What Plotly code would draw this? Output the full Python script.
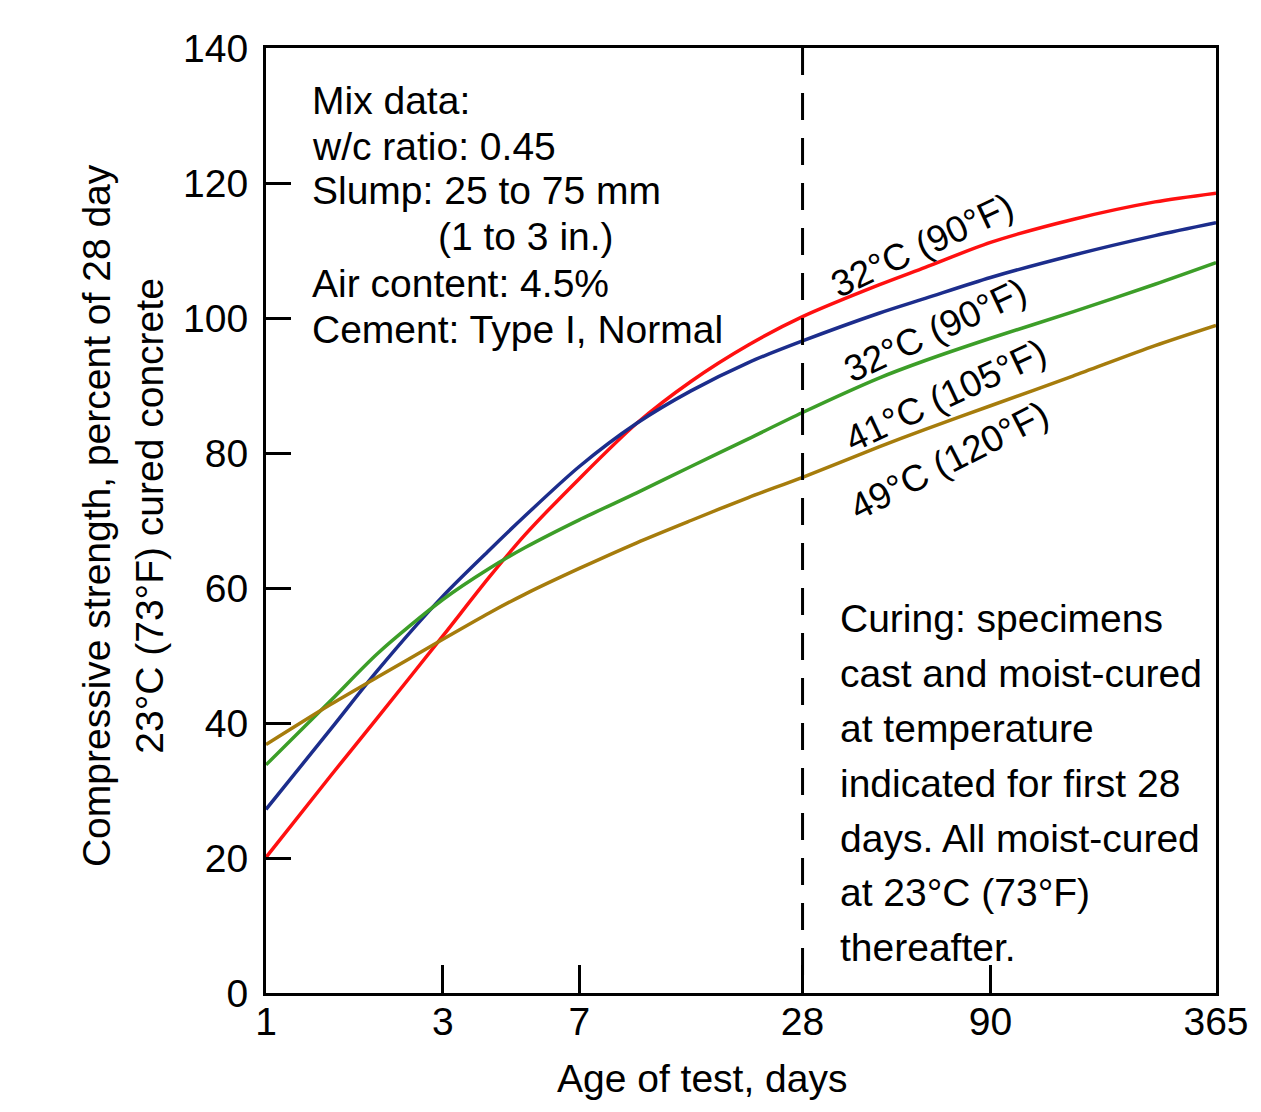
import plotly.graph_objects as go

# ---- data ----
days = [1, 1.5, 2, 3, 4, 5, 7, 10, 14, 20, 28, 45, 60, 90, 150, 250, 365]

red_32 = [20.1, 32.3, 40.8, 52.9, 61.6, 67.9, 76.2, 84.4, 90.6, 96.0, 100.2,
          104.9, 107.5, 111.2, 114.6, 117.2, 118.5]
blue_32 = [27.2, 39.2, 47.8, 58.8, 65.6, 70.7, 78.0, 84.4, 89.2, 93.4, 96.6,
           100.7, 102.9, 106.0, 109.3, 112.2, 114.1]
green_41 = [33.8, 43.4, 50.3, 58.3, 62.9, 66.0, 70.1, 74.1, 78.0, 82.1, 86.0,
            91.1, 93.7, 97.0, 100.9, 105.0, 108.2]
gold_49 = [36.8, 42.8, 46.8, 52.4, 56.3, 59.1, 62.9, 66.7, 70.0, 73.4, 76.4,
           80.9, 83.5, 87.0, 91.4, 95.9, 98.9]

x_ticks = [1, 3, 7, 28, 90, 365]
y_ticks = [0, 20, 40, 60, 80, 100, 120, 140]

series = [
    ("32°C (90°F)", red_32, "#ff1010"),
    ("32°C (90°F)", blue_32, "#1c2d8c"),
    ("41°C (105°F)", green_41, "#3c9e28"),
    ("49°C (120°F)", gold_49, "#a67c0c"),
]

mix_lines = ["Mix data:", "w/c ratio: 0.45", "Slump: 25 to 75 mm",
             "(1 to 3 in.)", "Air content: 4.5%", "Cement: Type I, Normal"]
curing_lines = ["Curing: specimens", "cast and moist-cured", "at temperature",
                "indicated for first 28", "days. All moist-cured",
                "at 23°C (73°F)", "thereafter."]

FONT = "Liberation Sans, Arial, sans-serif"
FS = 39

fig = go.Figure()
for name, vals, col in series:
    fig.add_trace(go.Scatter(x=days, y=vals, mode="lines", name=name,
                             line=dict(color=col, width=3.5, shape="spline", smoothing=0.8),
                             showlegend=False, hoverinfo="skip"))

# dashed 28-day line
fig.add_trace(go.Scatter(x=[28, 28], y=[140, 0], mode="lines",
                         line=dict(color="black", width=3, dash="27px,18px"),
                         showlegend=False, hoverinfo="skip"))

L, R, T, B = 266, 1222, 48, 993
W, H = 1261, 1112
pw, ph = R - L, B - T


def px(xp):
    return (xp - L) / pw


def py(yp):
    return (B - yp) / ph


ann = []
mix_y = [101, 146, 191, 237, 283, 329]
mix_x = [310, 310, 310, 437, 310, 310]
for t, xx, yy in zip(mix_lines, mix_x, mix_y):
    ann.append(dict(text=t, x=px(xx), y=py(yy), xref="paper", yref="paper",
                    xanchor="left", yanchor="middle", showarrow=False,
                    font=dict(family=FONT, size=FS, color="black")))
cur_y = [618, 673, 728, 783, 838, 892, 947]
for t, yy in zip(curing_lines, cur_y):
    ann.append(dict(text=t, x=px(842), y=py(yy), xref="paper", yref="paper",
                    xanchor="left", yanchor="middle", showarrow=False,
                    font=dict(family=FONT, size=FS, color="black")))
lab_pos = [(926, 245, -25), (939, 330, -25), (950, 395, -25), (954, 461, -27)]
for (name, vals, col), (xx, yy, ang) in zip(series, lab_pos):
    ann.append(dict(text=name, x=px(xx), y=py(yy), xref="paper", yref="paper",
                    xanchor="center", yanchor="middle", showarrow=False, textangle=ang,
                    font=dict(family=FONT, size=37, color="black")))
ann.append(dict(text="Age of test, days", x=px(705), y=py(1078), xref="paper", yref="paper",
                xanchor="center", yanchor="middle", showarrow=False,
                font=dict(family=FONT, size=FS, color="black")))
ann.append(dict(text="Compressive strength, percent of 28 day", x=px(95), y=py(516),
                xref="paper", yref="paper", xanchor="center", yanchor="middle",
                showarrow=False, textangle=-90,
                font=dict(family=FONT, size=FS, color="black")))
ann.append(dict(text="23°C (73°F) cured concrete", x=px(148), y=py(516),
                xref="paper", yref="paper", xanchor="center", yanchor="middle",
                showarrow=False, textangle=-90,
                font=dict(family=FONT, size=FS, color="black")))

fig.update_layout(
    width=W, height=H,
    margin=dict(l=L, r=W - R, t=T, b=H - B),
    paper_bgcolor="white", plot_bgcolor="white",
    annotations=ann,
    font=dict(family=FONT, size=FS, color="black"),
)
fig.update_xaxes(type="log", range=[0, 2.5623], tickvals=x_ticks,
                 ticktext=[str(v) for v in x_ticks],
                 ticks="inside", ticklen=28, tickwidth=3, tickcolor="black",
                 showline=True, linewidth=3, linecolor="black", mirror=True,
                 showgrid=False, zeroline=False, ticklabelstandoff=-8,
                 tickfont=dict(family=FONT, size=FS, color="black"))
fig.update_yaxes(range=[0, 140], tickvals=y_ticks,
                 ticks="inside", ticklen=25, tickwidth=3, tickcolor="black",
                 showline=True, linewidth=3, linecolor="black", mirror=True,
                 showgrid=False, zeroline=False, ticklabelstandoff=7,
                 tickfont=dict(family=FONT, size=FS, color="black"))

fig.write_html("out.html")
